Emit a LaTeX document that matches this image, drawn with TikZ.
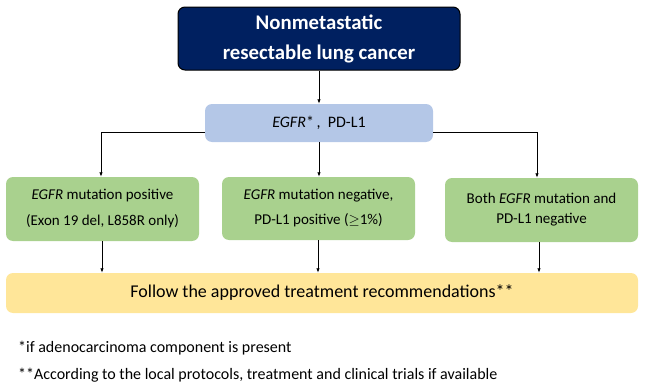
\documentclass[tikz,border=0pt]{standalone}
\usepackage{fontspec}
\setmainfont{Carlito}
\usetikzlibrary{arrows.meta}
\definecolor{navy}{HTML}{002060}
\definecolor{lblue}{HTML}{B4C7E7}
\definecolor{lgreen}{HTML}{A9D18E}
\definecolor{lyellow}{HTML}{FFE699}
\begin{document}
\begin{tikzpicture}[x=1pt, y=-1pt, every node/.style={font=\fontsize{16}{19}\selectfont},
    box/.style={rounded corners=7pt, align=center, inner sep=0pt},
    arr/.style={-{Latex[length=4.5pt,width=3.5pt]}, line width=0.8pt}]
\useasboundingbox (0,0) rectangle (646,388);
% boxes
\node[box, draw=black, line width=1pt, fill=navy, text=white, minimum width=282pt, minimum height=63pt,
    font=\fontsize{20.8}{30}\selectfont\bfseries] (top) at (319,38.5) {Nonmetastatic\\resectable lung cancer};
\node[box, fill=lblue, minimum width=228pt, minimum height=38pt] (test) at (319,123) {\textit{EGFR}*\,,\ \ PD-L1};
\node[box, fill=lgreen, minimum width=193pt, minimum height=64pt, font=\fontsize{15}{26}\selectfont] (pos) at (102.5,209)
    {\textit{EGFR} mutation positive\\(Exon 19 del, L858R only)};
\node[box, fill=lgreen, minimum width=193pt, minimum height=63pt, font=\fontsize{15}{25}\selectfont] (neg) at (318.5,208.5)
    {\textit{EGFR} mutation negative,\\PD-L1 positive ($\geq$1\%)};
\node[box, fill=lgreen, minimum width=193pt, minimum height=64pt, font=\fontsize{15}{20}\selectfont] (both) at (541.5,210)
    {Both \textit{EGFR} mutation and\\PD-L1 negative};
\node[box, fill=lyellow, minimum width=632pt, minimum height=40pt, font=\fontsize{18}{21}\selectfont] (follow) at (322,293)
    {Follow the approved treatment recommendations**};
% footnotes
\node[anchor=west, inner sep=0pt] (note1) at (18,348) {*if adenocarcinoma component is present};
\node[anchor=west, inner sep=0pt] (note2) at (18,375) {**According to the local protocols, treatment and clinical trials if available};
% arrows
\draw[arr] (top.south) -- (test.north);
\draw[arr] ([yshift=-9pt]test.west) -| ([xshift=-1.5pt]pos.north);
\draw[arr] (test.south) -- (test.south |- neg.north);
\draw[arr] ([yshift=-9pt]test.east) -| ([xshift=-4.5pt]both.north);
\foreach \n/\dx in {pos/-0.5, neg/-0.5, both/-2.5} {
    \draw[arr] ([xshift=\dx pt]\n.south) -- ([xshift=\dx pt]\n.south |- follow.north);
}
\end{tikzpicture}
\end{document}
